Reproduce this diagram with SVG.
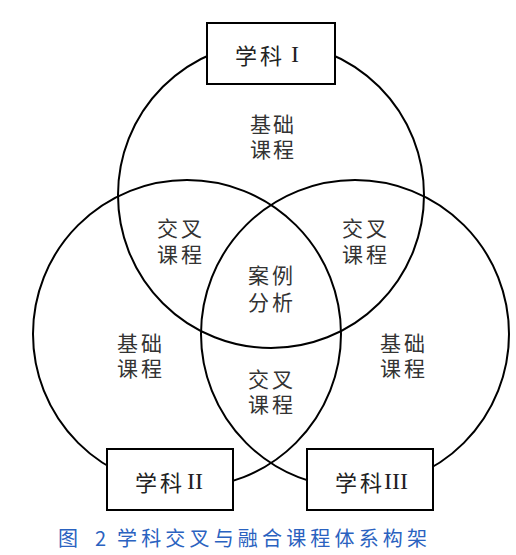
<svg xmlns="http://www.w3.org/2000/svg" width="516" height="555" viewBox="0 0 516 555">
<style>
.c{fill:none;stroke:#000;stroke-width:2}
.b{fill:#fff;stroke:#000;stroke-width:2}
.t{font-family:"Noto Sans CJK SC","Noto Sans",sans-serif;font-size:21px;fill:#333;dominant-baseline:central}
.bl{font-family:"Noto Sans CJK SC","Noto Sans",sans-serif;font-size:22px;fill:#222;dominant-baseline:central}
.r{font-family:"Liberation Serif",serif;font-size:24px;fill:#222;dominant-baseline:central}
.cap{font-family:"Noto Sans CJK SC","Noto Sans",sans-serif;font-size:20px;fill:#2a62c0;dominant-baseline:central}
</style>
<rect width="516" height="555" fill="#fff"/>
<g id="connectors">
<circle class="c" cx="271" cy="195" r="153"/>
<circle class="c" cx="187" cy="334" r="154"/>
<circle class="c" cx="355" cy="334" r="154"/>
</g>
<g id="subject1">
<rect class="b" x="207" y="23" width="128" height="61"/>
<text class="bl" x="235" y="54" textLength="47">学科</text>
<text class="r" x="291" y="54">I</text>
</g>
<g id="subject2">
<rect class="b" x="107" y="449" width="126" height="61"/>
<text class="bl" x="135" y="481" textLength="47">学科</text>
<text class="r" x="187" y="481">II</text>
</g>
<g id="subject3">
<rect class="b" x="307" y="449" width="126" height="61"/>
<text class="bl" x="335" y="481" textLength="47">学科</text>
<text class="r" x="384" y="481">III</text>
</g>
<g id="basic-top">
<text class="t"><tspan x="250" y="123" textLength="44">基础</tspan><tspan x="250" y="148" textLength="44">课程</tspan></text>
</g>
<g id="cross-left">
<text class="t"><tspan x="157" y="227" textLength="45">交叉</tspan><tspan x="157" y="253" textLength="45">课程</tspan></text>
</g>
<g id="cross-right">
<text class="t"><tspan x="342" y="227" textLength="45">交叉</tspan><tspan x="342" y="253" textLength="45">课程</tspan></text>
</g>
<g id="case">
<text class="t"><tspan x="248" y="274" textLength="45">案例</tspan><tspan x="248" y="301" textLength="45">分析</tspan></text>
</g>
<g id="basic-left">
<text class="t"><tspan x="117" y="342" textLength="45">基础</tspan><tspan x="117" y="367" textLength="45">课程</tspan></text>
</g>
<g id="basic-right">
<text class="t"><tspan x="380" y="342" textLength="45">基础</tspan><tspan x="380" y="367" textLength="45">课程</tspan></text>
</g>
<g id="cross-bottom">
<text class="t"><tspan x="248" y="378" textLength="45">交叉</tspan><tspan x="248" y="403" textLength="45">课程</tspan></text>
</g>
<g id="caption">
<text class="cap" x="58" y="537">图</text>
<text class="cap" x="95" y="537">2</text>
<text class="cap" x="117" y="537" textLength="310">学科交叉与融合课程体系构架</text>
</g>
</svg>
